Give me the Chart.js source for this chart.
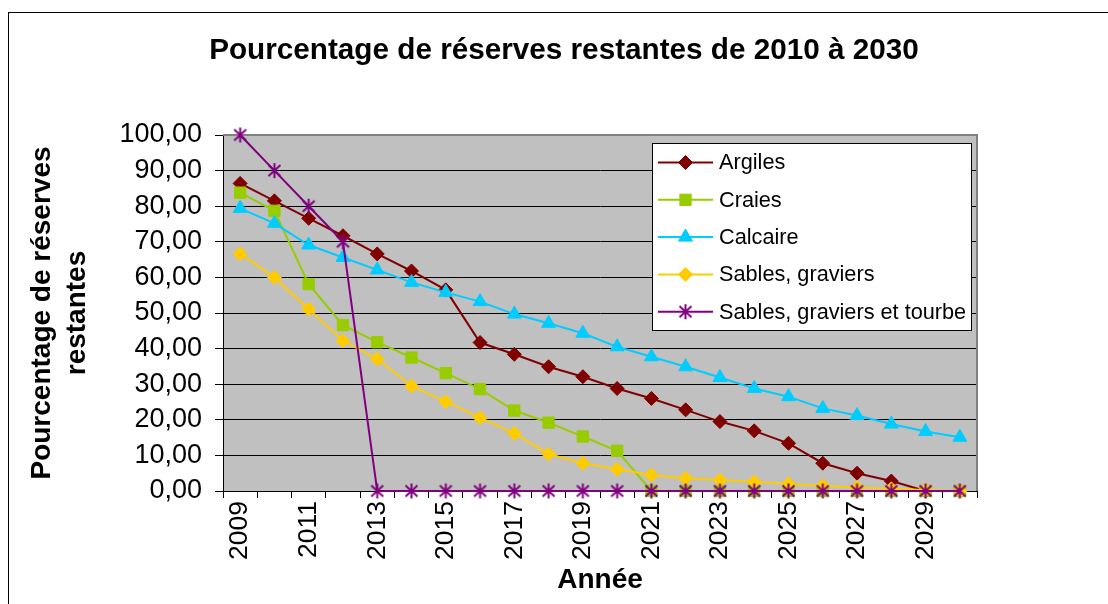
<!DOCTYPE html>
<html>
<head>
<meta charset="utf-8">
<script src="https://cdn.jsdelivr.net/npm/chart.js@4/dist/chart.umd.min.js"></script>
<style>
  body { margin: 0; background: #fff; }
  canvas { display: block; }
</style>
</head>
<body>
<canvas id="chart" width="1108" height="604"></canvas>
<script>
var years = ['2009', '2010', '2011', '2012', '2013', '2014', '2015', '2016', '2017', '2018', '2019',
             '2020', '2021', '2022', '2023', '2024', '2025', '2026', '2027', '2028', '2029', '2030'];

var argiles = [86.4, 81.5, 76.6, 71.7, 66.6, 61.8, 56.5, 41.7, 38.4, 34.9, 32.1,
               28.8, 26.0, 22.8, 19.5, 16.9, 13.4, 7.8, 5.0, 2.8, 0, 0];
var craies = [83.8, 78.7, 58.1, 46.6, 41.8, 37.5, 33.1, 28.6, 22.6, 19.2, 15.3,
              11.3, 0, 0, 0, 0, 0, 0, 0, 0, 0, 0];
var calcaire = [79.4, 75.2, 69.1, 65.6, 62.1, 58.6, 55.8, 53.2, 49.7, 47.1, 44.3,
                40.5, 37.7, 34.9, 31.9, 28.8, 26.5, 23.2, 21.2, 18.8, 16.7, 15.1];
var sables = [66.6, 60.0, 51.1, 42.2, 37.1, 29.5, 25.1, 20.6, 16.2, 10.4, 7.8,
              6.1, 4.5, 3.6, 3.1, 2.6, 2.0, 1.5, 1.0, 0.6, 0.3, 0];
var tourbe = [100, 90, 80, 70, 0, 0, 0, 0, 0, 0, 0,
              0, 0, 0, 0, 0, 0, 0, 0, 0, 0, 0];

var seriesNames = ['Argiles', 'Craies', 'Calcaire', 'Sables, graviers', 'Sables, graviers et tourbe'];
var seriesColors = ['#800000', '#99CC00', '#00CCFF', '#FFCC00', '#800080'];

var FONT = '"Liberation Sans", Arial, sans-serif';

// asterisk marker like the spreadsheet one (vertical + X)
function makeStar(color) {
  var c = document.createElement('canvas');
  c.width = 17; c.height = 17;
  var g = c.getContext('2d');
  g.strokeStyle = color;
  g.lineWidth = 2;
  g.beginPath();
  g.moveTo(8.5, 1); g.lineTo(8.5, 16);
  g.moveTo(2.5, 3); g.lineTo(14.5, 14);
  g.moveTo(2.5, 14); g.lineTo(14.5, 3);
  g.stroke();
  return c;
}
var starImg = makeStar('#800080');

function makeDataset(i, values, style, radius, order) {
  return {
    label: seriesNames[i],
    data: values,
    borderColor: seriesColors[i],
    backgroundColor: seriesColors[i],
    borderWidth: 2,
    pointStyle: style,
    pointRadius: radius,
    pointHoverRadius: radius,
    pointBorderWidth: 1,
    pointBackgroundColor: seriesColors[i],
    pointBorderColor: seriesColors[i],
    tension: 0,
    clip: false,
    order: order
  };
}

var frame = {
  id: 'frame',
  beforeDraw: function (chart) {
    var ctx = chart.ctx, a = chart.chartArea;
    ctx.save();
    ctx.fillStyle = '#fff';
    ctx.fillRect(0, 0, chart.width, chart.height);
    ctx.strokeStyle = '#000';
    ctx.lineWidth = 1;
    ctx.strokeRect(8.5, 12.5, chart.width + 20, chart.height + 20);
    ctx.fillStyle = '#C0C0C0';
    ctx.fillRect(a.left, a.top, a.right - a.left, a.bottom - a.top);
    ctx.restore();
  },
  beforeDatasetsDraw: function (chart) {
    var ctx = chart.ctx, a = chart.chartArea;
    ctx.save();
    ctx.strokeStyle = '#808080';
    ctx.lineWidth = 2;
    ctx.beginPath();
    ctx.moveTo(a.left, a.top);
    ctx.lineTo(a.right, a.top);
    ctx.lineTo(a.right, a.bottom);
    ctx.stroke();
    ctx.restore();
  },
  afterDraw: function (chart) {
    var ctx = chart.ctx;
    ctx.save();
    ctx.fillStyle = '#000';
    ctx.font = 'bold 29.7px ' + FONT;
    ctx.textAlign = 'center';
    ctx.textBaseline = 'middle';
    ctx.fillText('Pourcentage de réserves restantes de 2010 à 2030', 564, 51);
    ctx.restore();
  }
};

function drawMarker(ctx, style, r, x, y, color) {
  ctx.fillStyle = color;
  ctx.strokeStyle = color;
  ctx.lineWidth = 1;
  ctx.beginPath();
  if (style === 'rectRot') {
    ctx.moveTo(x - r, y); ctx.lineTo(x, y - r); ctx.lineTo(x + r, y); ctx.lineTo(x, y + r);
  } else if (style === 'rect') {
    var s = r * Math.SQRT1_2;
    ctx.rect(x - s, y - s, 2 * s, 2 * s);
  } else if (style === 'triangle') {
    ctx.moveTo(x, y - r);
    ctx.lineTo(x + Math.sin(2 * Math.PI / 3) * r, y + r / 2);
    ctx.lineTo(x - Math.sin(2 * Math.PI / 3) * r, y + r / 2);
  } else {
    ctx.drawImage(style, x - style.width / 2, y - style.height / 2);
    return;
  }
  ctx.closePath();
  ctx.fill();
  ctx.stroke();
}

var boxLegend = {
  id: 'boxLegend',
  afterDatasetsDraw: function (chart) {
    var ctx = chart.ctx;
    ctx.save();
    ctx.fillStyle = '#fff';
    ctx.fillRect(652, 143, 320, 188);
    ctx.strokeStyle = '#000';
    ctx.lineWidth = 1;
    ctx.strokeRect(652.5, 143.5, 319, 187);
    chart.data.datasets.forEach(function (ds, i) {
      var y = 162.5 + i * 37.3;
      ctx.strokeStyle = ds.borderColor;
      ctx.lineWidth = 2;
      ctx.beginPath();
      ctx.moveTo(658, y);
      ctx.lineTo(713, y);
      ctx.stroke();
      drawMarker(ctx, ds.pointStyle, ds.pointRadius, 685.5, y, ds.borderColor);
      ctx.fillStyle = '#000';
      ctx.font = '21.7px ' + FONT;
      ctx.textAlign = 'left';
      ctx.textBaseline = 'middle';
      ctx.fillText(ds.label, 719, y + 1);
    });
    ctx.restore();
  }
};

new Chart(document.getElementById('chart'), {
  type: 'line',
  data: {
    labels: years,
    datasets: [
      makeDataset(0, argiles, 'rectRot', 7, 5),
      makeDataset(1, craies, 'rect', 8, 4),
      makeDataset(2, calcaire, 'triangle', 8, 3),
      makeDataset(3, sables, 'rectRot', 7, 2),
      makeDataset(4, tourbe, starImg, 8, 1)
    ]
  },
  options: {
    responsive: false,
    animation: false,
    events: [],
    layout: { padding: { top: 135, right: 131, bottom: 0, left: 10 } },
    plugins: {
      legend: { display: false },
      title: { display: false },
      tooltip: { enabled: false }
    },
    scales: {
      x: {
        type: 'category',
        offset: true,
        grid: { offset: true, drawOnChartArea: false, color: '#000', tickLength: 7 },
        border: { color: '#000', width: 1 },
        ticks: {
          autoSkip: false,
          minRotation: 90,
          maxRotation: 90,
          padding: 3,
          color: '#000',
          font: { family: FONT, size: 26.5 },
          callback: function (v, i) { return i % 2 === 0 ? years[i] : ''; }
        },
        title: {
          display: true,
          text: 'Année',
          color: '#000',
          font: { family: FONT, size: 28, weight: 'bold', lineHeight: 1.2 },
          padding: { top: 0, bottom: 7 }
        },
        afterFit: function (scale) { scale.height = 604 - 491; }
      },
      y: {
        min: 0,
        max: 100,
        ticks: {
          stepSize: 10,
          padding: 13,
          color: '#000',
          font: { family: FONT, size: 27 },
          callback: function (v) { return v.toFixed(2).replace('.', ','); }
        },
        grid: { color: '#000', lineWidth: 1, tickLength: 8 },
        border: { color: '#000', width: 1 },
        title: {
          display: true,
          text: ['Pourcentage de réserves', 'restantes'],
          color: '#000',
          font: { family: FONT, size: 28, weight: 'bold', lineHeight: 1.25 },
          padding: { top: 15, bottom: 0 }
        },
        afterFit: function (scale) { scale.width = 223 - 10; }
      }
    }
  },
  plugins: [frame, boxLegend]
});
</script>
</body>
</html>
